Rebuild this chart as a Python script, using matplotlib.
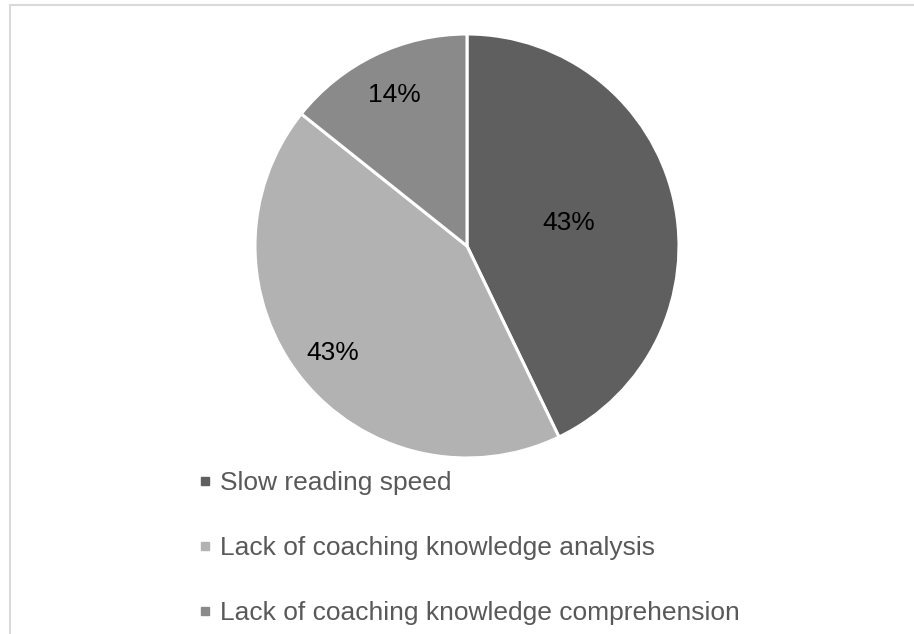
import numpy as np
import matplotlib.pyplot as plt
from matplotlib.lines import Line2D
from matplotlib.patches import Rectangle

plt.rcParams['font.family'] = ['Liberation Sans', 'DejaVu Sans']

# dados
categorias = ['Slow reading speed',
              'Lack of coaching knowledge analysis',
              'Lack of coaching knowledge comprehension']
valores = [3, 3, 1]
cores = ['#5f5f5f', '#b2b2b2', '#8a8a8a']
dist_rotulos = [0.49, 0.81, 0.79]

W, H = 914, 634
fig = plt.figure(figsize=(W / 100, H / 100), dpi=100)
ax = fig.add_axes([0, 0, 1, 1])

cx, cy, r = 467, H - 246, 212
wedges, _ = ax.pie(valores, colors=cores, startangle=90, counterclock=False,
                   center=(cx, cy), radius=r,
                   wedgeprops=dict(edgecolor='white', linewidth=2.2))

# pie mexe nos limites, entao ajusta depois
ax.set_xlim(0, W)
ax.set_ylim(0, H)
ax.set_aspect('equal')
ax.axis('off')

# moldura cinza
ax.add_patch(Rectangle((9.5, -10), W + 20, H - 4.5 + 10, fill=False,
                       edgecolor='#d9d9d9', linewidth=1.5))

total = sum(valores)
for w, v, d in zip(wedges, valores, dist_rotulos):
    ang = np.deg2rad((w.theta1 + w.theta2) / 2)
    ax.text(cx + d * r * np.cos(ang), cy + d * r * np.sin(ang),
            f'{100 * v / total:.0f}%', ha='center', va='center',
            fontsize=19, color='black')

handles = [Line2D([], [], marker='s', linestyle='none', markersize=5.5,
                  markerfacecolor=c, markeredgecolor=c) for c in cores]
leg = fig.legend(handles, categorias, loc='upper left',
                 bbox_to_anchor=(198 / W, 1 - 471 / H), frameon=False,
                 fontsize=19, labelspacing=1.55, handlelength=0.5,
                 handletextpad=0.35, borderpad=0, borderaxespad=0)
for t in leg.get_texts():
    t.set_color('#595959')

plt.savefig('out.png', dpi=100)
